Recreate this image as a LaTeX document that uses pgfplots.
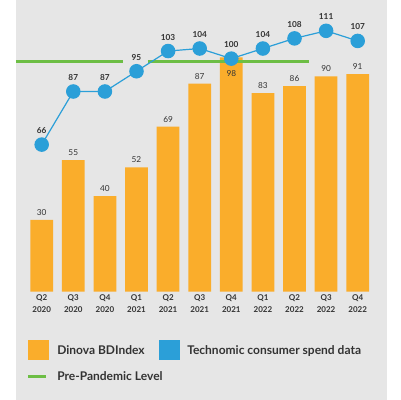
\documentclass[border=0pt]{standalone}
\usepackage{pgfplots}
\pgfplotsset{compat=1.18}
\usepackage{pgfplotstable}
\usepackage{fontspec}
\setmainfont{Lato}
\definecolor{barorange}{HTML}{FAAD2B}
\definecolor{dotblue}{HTML}{2B9FD8}
\definecolor{pregreen}{HTML}{6DBE45}
\definecolor{panelgrey}{HTML}{E6E6E6}
\definecolor{txt}{HTML}{333333}

\pgfplotstableread{
x y dy
0 30 5.6
1 55 5.6
2 40 5.6
3 52 5.6
4 69 5.6
5 87 5.6
6 98 -12
7 83 5.6
8 86 5.6
9 90 5.6
10 91 5.6
}\bars

\pgfplotstableread{
x y
0 66
1 87
2 87
3 95
4 103
5 104
6 100
7 104
8 108
9 111
10 107
}\spend

\begin{document}
\begin{tikzpicture}[x=0.75pt,y=0.75pt]
\fill[panelgrey] (16,0) rectangle (387,400);
\begin{axis}[
  at={(12pt,81.225pt)}, anchor=south west,
  width=278.25pt, height=218.8pt, scale only axis,
  xmin=-0.813, xmax=10.927, ymin=0, ymax=122,
  axis lines=none, clip=false,
  /pgf/number format/assume math mode=true,
  ]
\addplot[ybar, bar width=0.72, fill=barorange, draw=none,
  nodes near coords,
  visualization depends on={\thisrow{dy} \as \dy},
  every node near coord/.append style={anchor=center, yshift=\dy pt, font=\fontsize{6.2}{7}\selectfont, text=txt},
  ] table[x=x,y=y] {\bars};
\addplot[pregreen, line width=2pt] coordinates {(-0.813,96.2) (2.57,96.2)};
\addplot[pregreen, line width=2pt] coordinates {(3.36,96.2) (8.46,96.2)};
\end{axis}
\begin{axis}[
  at={(12pt,81.225pt)}, anchor=south west,
  width=278.25pt, height=218.8pt, scale only axis,
  xmin=-0.813, xmax=10.927, ymin=7.83, ymax=123.2,
  axis lines=none, clip=false,
  /pgf/number format/assume math mode=true,
  ]
\addplot[dotblue, line width=0.9pt, mark=*, mark size=5pt,
  mark options={fill=dotblue, draw=none},
  nodes near coords,
  every node near coord/.append style={anchor=center, yshift=10.5pt, font=\bfseries\fontsize{6.2}{7}\selectfont, text=txt},
  ] table[x=x,y=y] {\spend};
\end{axis}
% x tick labels
\foreach \q/\yr [count=\i from 0] in {Q2/2020,Q3/2020,Q4/2020,Q1/2021,Q2/2021,Q3/2021,Q4/2021,Q1/2022,Q2/2022,Q3/2022,Q4/2022}{
  \node[font=\bfseries\fontsize{6}{7}\selectfont, text=txt, inner sep=0pt] at (41.7+31.6*\i,400-297.7) {\q};
  \node[font=\bfseries\fontsize{6}{7}\selectfont, text=txt, inner sep=0pt] at (41.7+31.6*\i,400-309.3) {\yr};
}
% legend
\fill[barorange] (28,40) rectangle (49,60);
\node[anchor=base west, inner sep=0pt, font=\bfseries\fontsize{9}{11}\selectfont, text=txt] at (57,45) {Dinova BDIndex};
\fill[dotblue] (159,40) rectangle (180,60);
\node[anchor=base west, inner sep=0pt, font=\bfseries\fontsize{9}{11}\selectfont, text=txt] at (187,45) {Technomic consumer spend data};
\draw[pregreen, line width=2.2pt] (28,23.3) -- (46,23.3);
\node[anchor=base west, inner sep=0pt, font=\bfseries\fontsize{9}{11}\selectfont, text=txt] at (57,19) {Pre-Pandemic Level};
\pgfresetboundingbox
\useasboundingbox (0,0) rectangle (401,400);
\end{tikzpicture}
\end{document}
